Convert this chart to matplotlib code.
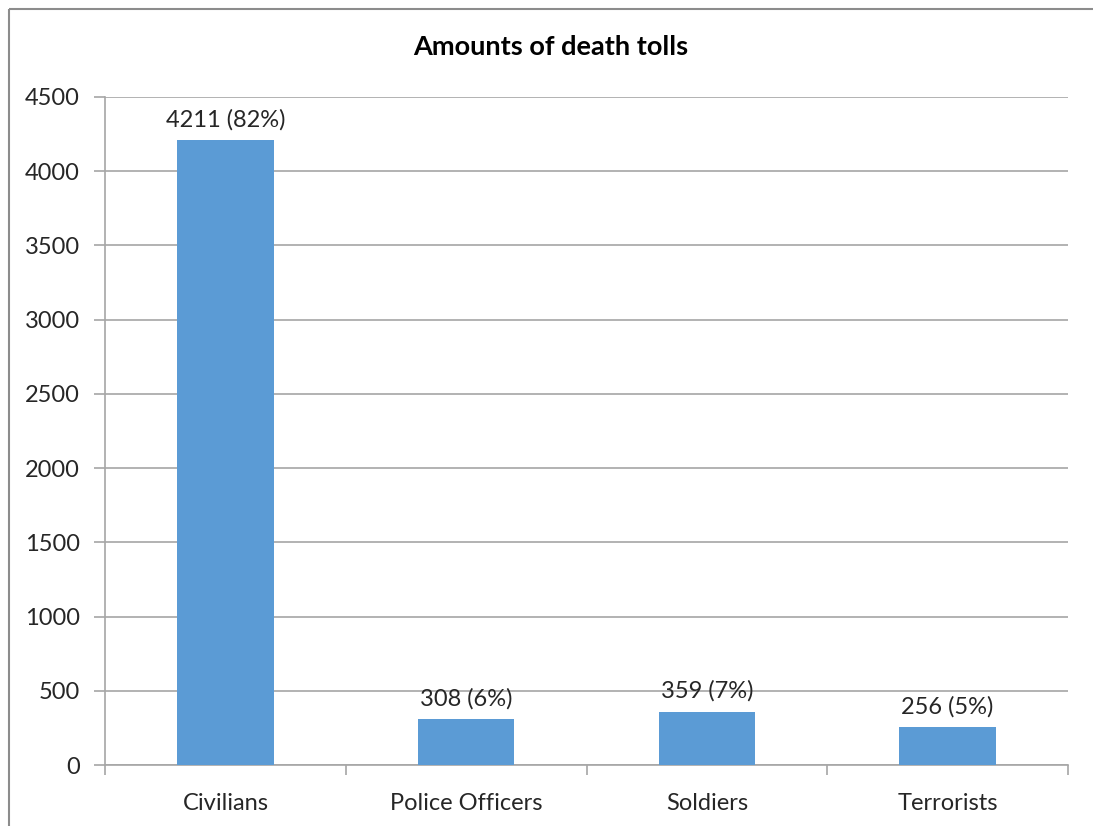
import matplotlib
matplotlib.use('Agg')
import matplotlib.pyplot as plt
from matplotlib.lines import Line2D
import numpy as np

categories = ['Civilians', 'Police Officers', 'Soldiers', 'Terrorists']
deaths = [4211, 308, 359, 256]
shares = [82, 6, 7, 5]

plt.rcParams['font.family'] = ['Lato', 'DejaVu Sans']
text_size = 17
bar_color = '#5B9BD5'
grid_color = '#A6A6A6'

fig = plt.figure(figsize=(10.93, 8.26), dpi=100)
ax = fig.add_axes([105/1093, 1 - 765/826, (1068 - 105)/1093, (765 - 97)/826])

x = np.arange(len(categories))
ax.bar(x, deaths, width=0.4, color=bar_color, zorder=3)
for xi, v, s in zip(x, deaths, shares):
    ax.annotate(f'{v} ({s}%)', (xi, v), xytext=(0, 7), textcoords='offset points',
                ha='center', va='bottom', fontsize=text_size, color='#262626')

ax.set_xlim(-0.5, len(categories) - 0.5)
ax.set_ylim(0, 4500)
ax.set_yticks(np.arange(0, 4501, 500))
ax.set_xticks(x)
ax.set_xticklabels(categories)
ax.set_xticks(np.arange(-0.5, len(categories), 1), minor=True)
ax.tick_params(axis='x', which='major', length=0, pad=20, labelsize=text_size, labelcolor='#262626')
ax.tick_params(axis='x', which='minor', length=7, direction='out', color=grid_color, width=1.2)
ax.tick_params(axis='y', length=8, direction='out', color=grid_color, width=1.2,
               pad=10, labelsize=text_size, labelcolor='#262626')
ax.grid(axis='y', color=grid_color, linewidth=1.2, zorder=0)

for side in ['top', 'right']:
    ax.spines[side].set_visible(False)
for side in ['left', 'bottom']:
    ax.spines[side].set_color(grid_color)
    ax.spines[side].set_linewidth(1.2)

fig.text(551/1093, 1 - 47/826, 'Amounts of death tolls', ha='center', va='center',
         fontsize=19.5, fontweight='bold', color='black')

# outer chart frame (left and top edges)
fig.add_artist(Line2D([9/1093, 9/1093], [0, 1 - 9/826], transform=fig.transFigure,
                      color='#8C8C8C', linewidth=1.5, solid_capstyle='butt'))
fig.add_artist(Line2D([9/1093, 1.01], [1 - 9/826, 1 - 9/826], transform=fig.transFigure,
                      color='#8C8C8C', linewidth=1.5, solid_capstyle='butt'))

fig.savefig('out.png', dpi=100)
